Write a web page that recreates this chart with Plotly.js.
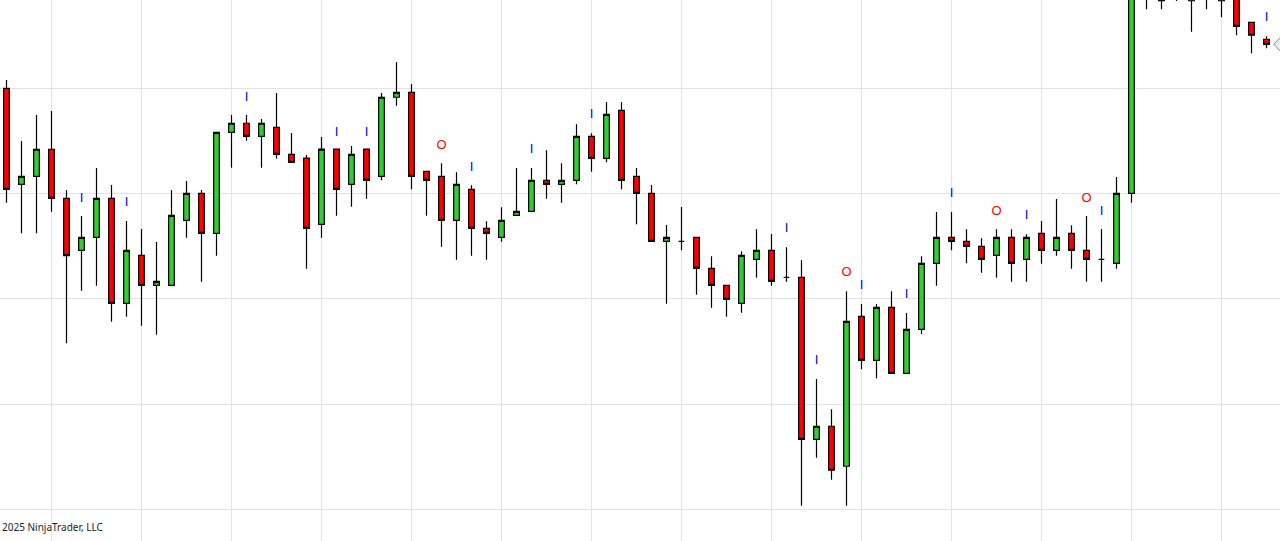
<!DOCTYPE html>
<html>
<head>
<meta charset="utf-8">
<script src="https://cdn.plot.ly/plotly-3.0.1.min.js"></script>
<style>
  html, body { margin: 0; padding: 0; background: #ffffff; }
  #chart { width: 1280px; height: 541px; }
</style>
</head>
<body>
<div id="chart"></div>
<script>
// ---- OHLC data (bar by bar) ----
var openP = [
  100.00, 90.88, 91.64, 94.21, 89.55, 84.61, 85.84, 89.55, 79.57, 84.13,
  81.28, 81.28, 87.46, 90.02, 86.22, 95.82, 96.68, 95.44, 96.30, 93.73,
  93.38, 87.08, 94.23, 90.88, 94.23, 91.64, 99.15, 99.62, 92.11, 91.64,
  87.46, 90.40, 86.70, 85.84, 87.93, 88.31, 91.26, 90.88, 91.26, 95.44,
  93.35, 97.91, 91.64, 90.02, 85.46, 85.46, 85.84, 82.90, 81.28, 79.57,
  83.75, 84.61, 82.04, 82.04, 66.65, 67.89, 64.09, 78.34, 74.16, 79.19,
  72.92, 77.10, 83.37, 85.84, 85.46, 84.99, 84.13, 85.84, 83.75, 86.22,
  84.61, 86.22, 84.61, 83.75, 83.37, 90.02, 110.50, 109.60, 109.00, 108.32,
  109.80, 108.32, 109.40, 106.27, 104.66
];
var highP = [
  100.79, 94.99, 97.46, 97.84, 90.34, 87.87, 92.43, 90.81, 87.39, 86.63,
  85.40, 90.34, 91.19, 90.34, 95.88, 97.46, 97.46, 97.08, 99.55, 95.75,
  93.66, 95.37, 94.25, 94.52, 94.25, 99.55, 102.50, 100.41, 92.13, 92.87,
  92.02, 90.78, 87.36, 88.69, 92.43, 92.43, 94.11, 92.87, 96.58, 95.73,
  98.70, 98.70, 92.43, 90.81, 87.01, 88.72, 85.86, 84.04, 81.30, 84.51,
  86.60, 86.16, 84.89, 83.69, 72.38, 69.50, 80.71, 79.51, 79.51, 80.71,
  78.65, 84.04, 88.25, 88.25, 86.60, 85.75, 86.60, 86.60, 86.13, 87.39,
  89.48, 86.98, 87.87, 86.63, 91.57, 111.00, 112.00, 110.20, 110.00, 110.30,
  110.60, 110.00, 110.00, 106.30, 104.94
];
var lowP = [
  89.13, 86.22, 86.22, 88.28, 75.77, 80.77, 81.25, 77.83, 78.30, 77.45,
  76.59, 81.26, 85.81, 81.63, 84.10, 92.46, 95.02, 92.46, 93.31, 92.95,
  82.86, 85.81, 87.90, 88.75, 89.51, 91.26, 98.35, 90.40, 87.90, 84.95,
  83.72, 84.10, 83.72, 85.43, 87.91, 88.29, 89.51, 89.13, 90.88, 92.08,
  92.97, 90.40, 87.08, 85.44, 79.54, 84.61, 80.39, 79.16, 78.30, 78.68,
  82.01, 81.25, 81.63, 60.34, 64.90, 62.81, 60.34, 73.30, 72.45, 72.92,
  72.90, 76.63, 81.25, 84.61, 83.37, 82.48, 82.01, 81.63, 81.63, 83.34,
  84.10, 82.86, 81.63, 81.63, 82.86, 89.13, 107.51, 107.51, 108.29, 105.38,
  107.51, 106.75, 105.04, 103.33, 103.80
];
var closeP = [
  90.40, 91.64, 94.21, 89.55, 84.10, 85.84, 89.55, 79.57, 84.61, 81.28,
  81.66, 87.93, 90.02, 86.22, 95.82, 96.68, 95.44, 96.68, 93.73, 92.97,
  86.70, 94.23, 90.40, 93.73, 91.26, 99.15, 99.62, 91.64, 91.26, 87.46,
  90.88, 86.70, 86.22, 87.46, 88.31, 91.26, 90.88, 91.26, 95.44, 93.35,
  97.53, 91.26, 90.02, 85.46, 85.84, 85.46, 82.90, 81.28, 79.95, 84.13,
  84.61, 81.66, 82.04, 66.65, 67.89, 63.71, 77.86, 74.16, 79.19, 72.92,
  77.10, 83.37, 85.84, 85.46, 84.99, 83.75, 85.84, 83.37, 85.84, 84.61,
  85.84, 84.61, 83.75, 83.75, 90.02, 110.50, 111.20, 108.32, 109.40, 109.50,
  109.20, 109.60, 105.89, 105.04, 104.18
];

// ---- Signal markers ----
var iBars   = [5, 8, 16, 22, 24, 31, 35, 39, 52, 54, 57, 60, 63, 68, 73, 84];
var iPrices = [89.53, 89.10, 99.08, 95.78, 95.75, 92.43, 94.14, 97.46, 86.63, 74.09, 81.22, 80.36, 89.96, 87.90, 88.25, 106.68];
var oBars   = [29, 56, 66, 72];
var oPrices = [94.50, 82.45, 88.23, 89.48];

// ---- Axis settings ----
var xRange = [-0.4333, 84.9];
var yRange = [56.99, 108.39];
var yGridStart = 60, yGridStep = 10;
var xGridStart = 3, xGridStep = 6;
var nextBar = 85;
var copyright = '2025 NinjaTrader, LLC';

var barIndex = openP.map(function (_, i) { return i; });

var candles = {
  type: 'candlestick',
  x: barIndex,
  open: openP, high: highP, low: lowP, close: closeP,
  increasing: { line: { color: '#000000', width: 1.2 }, fillcolor: '#32CD32' },
  decreasing: { line: { color: '#000000', width: 1.2 }, fillcolor: '#FF0000' },
  whiskerwidth: 0,
  hoverinfo: 'skip',
  showlegend: false
};

var iMarks = {
  type: 'scatter', mode: 'text',
  x: iBars, y: iPrices,
  text: iBars.map(function () { return 'I'; }),
  textposition: 'middle center',
  textfont: { family: 'Liberation Sans, Arial, sans-serif', size: 13, color: '#0000FF' },
  hoverinfo: 'skip', showlegend: false, cliponaxis: false
};

var oMarks = {
  type: 'scatter', mode: 'text',
  x: oBars, y: oPrices,
  text: oBars.map(function () { return 'O'; }),
  textposition: 'middle center',
  textfont: { family: 'Liberation Sans, Arial, sans-serif', size: 13, color: '#FF0000' },
  hoverinfo: 'skip', showlegend: false, cliponaxis: false
};

// price-marker diamond at the right edge (last close), half-size in data units
var lastClose = closeP[closeP.length - 1];
var dHalfX = 0.52;
var dHalfY = (yRange[1] - yRange[0]) / 541 * 8;
var diamondPath = 'M ' + (nextBar - dHalfX) + ',' + lastClose +
  ' L ' + nextBar + ',' + (lastClose + dHalfY) +
  ' L ' + (nextBar + dHalfX) + ',' + lastClose +
  ' L ' + nextBar + ',' + (lastClose - dHalfY) + ' Z';

var layout = {
  width: 1280, height: 541,
  margin: { l: 0, r: 0, t: 0, b: 0, pad: 0 },
  paper_bgcolor: '#ffffff', plot_bgcolor: '#ffffff',
  boxgap: 0.46,
  showlegend: false,
  xaxis: {
    type: 'linear', range: xRange,
    rangeslider: { visible: false },
    showgrid: true, gridcolor: '#e3e3e3', gridwidth: 1,
    tick0: xGridStart, dtick: xGridStep, tickmode: 'linear',
    showticklabels: false, ticks: '', zeroline: false, showline: false,
    fixedrange: true
  },
  yaxis: {
    range: yRange,
    showgrid: true, gridcolor: '#e3e3e3', gridwidth: 1,
    tick0: yGridStart, dtick: yGridStep, tickmode: 'linear',
    showticklabels: false, ticks: '', zeroline: false, showline: false,
    fixedrange: true
  },
  shapes: [{
    type: 'path', xref: 'x', yref: 'y', path: diamondPath,
    fillcolor: '#ececec', line: { color: '#8a8a8a', width: 1 }, layer: 'above'
  }],
  annotations: [{
    text: copyright, showarrow: false,
    xref: 'paper', yref: 'paper', x: 0, y: 0.0268,
    xanchor: 'left', yanchor: 'middle', xshift: 0,
    font: { family: 'Noto Sans, Open Sans, sans-serif', size: 10, color: '#222222' }
  }]
};

Plotly.newPlot('chart', [candles, iMarks, oMarks], layout, { staticPlot: true, displayModeBar: false });
</script>
</body>
</html>
